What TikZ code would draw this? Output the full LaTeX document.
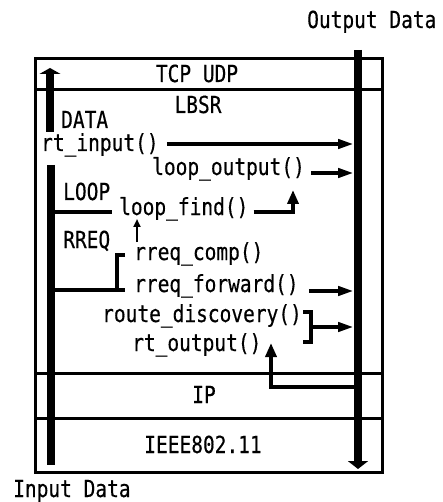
\documentclass[tikz,border=0pt]{standalone}
\usepackage{fontspec}
\setmainfont{DejaVu Sans Mono}[FakeStretch=0.83,FakeBold=0.4]
\usetikzlibrary{arrows.meta}

\tikzset{
  layer/.style={line width=3pt},
  bar/.style={line width=7.5pt},
  link/.style={line width=4.5pt,line join=miter},
  flow/.style={link,-{Triangle[length=16pt,width=9pt]}},
  rise/.style={link,-{Triangle[length=14pt,width=11pt]}},
  tiny/.style={line width=2pt,-{Triangle[length=8pt,width=7pt]}},
  lbl/.style={anchor=base west,inner sep=0pt,font=\fontsize{23.5}{27}\selectfont},
  ttl/.style={lbl,anchor=base},
}

\begin{document}
\begin{tikzpicture}[x=1pt,y=-1pt]
        \useasboundingbox (0,0) rectangle (443,502);
        % layers
        \draw [layer] (35,59) rectangle (382,472);
        \draw [layer] (35,90) -- (382,90);
        \draw [layer] (35,373) -- (382,373);
        \draw [layer] (35,418) -- (382,418);
        \node [ttl] (tcp) at (197,82) {TCP UDP};
        \node [ttl] (lbsr) at (198,113) {LBSR};
        \node [ttl] (ip) at (204,403) {IP};
        \node [ttl] (ieee) at (203,453) {IEEE802.11};
        \node [lbl] (indata) at (13,497) {Input Data};
        \node [lbl] (outdata) at (307,28) {Output Data};
        % functions
        \node [lbl] (data) at (61,128) {DATA};
        \node [lbl] (rtin) at (41,151) {rt\_input()};
        \node [lbl] (loopout) at (152,175) {loop\_output()};
        \node [lbl] (loop) at (63,200) {LOOP};
        \node [lbl] (loopfind) at (119,215) {loop\_find()};
        \node [lbl] (rreq) at (63,248) {RREQ};
        \node [lbl] (rreqcomp) at (134,260) {rreq\_comp()};
        \node [lbl] (rreqfwd) at (134,292) {rreq\_forward()};
        \node [lbl] (routedisc) at (102,322) {route\_discovery()};
        \node [lbl] (rtout) at (132,351) {rt\_output()};
        % data paths
        \coordinate (ob) at (354,0);
        \coordinate (ib) at (55,0);
        \draw [bar,-{Triangle[length=6pt,width=21pt]}] (50,132) -- (50,68);
        \draw [bar] (51,165) -- (51,465);
        \draw [bar,-{Triangle[length=8pt,width=20pt]}] (358,50) -- (358,469);
        \draw [flow] ([xshift=8pt,yshift=7pt]rtin.base east) -- (ob |- 0,144);
        \draw [flow] ([xshift=6pt,yshift=2pt]loopout.base east) -- (ob |- 0,173);
        \coordinate (lfup) at (293,190);
        \draw [rise] ([xshift=5pt,yshift=3pt]loopfind.base east) -| (lfup);
        \draw [link] (ib |- 0,212) -- ([xshift=-7pt,yshift=3pt]loopfind.base west);
        \coordinate (lfdn) at (137,219);
        \draw [tiny] ([xshift=3pt,yshift=18pt]rreqcomp.base west) -- (lfdn);
        \coordinate (rqb) at (117,290);
        \draw [link] ([xshift=-9pt,yshift=5pt]rreqcomp.base west) -| (rqb);
        \draw [link] (ib |- rqb) -- ([xshift=-9pt,yshift=2pt]rreqfwd.base west);
        \draw [flow] ([xshift=10pt,yshift=1pt]rreqfwd.base east) -- (ob |- 0,291);
        \coordinate (rd1) at (303,312);
        \coordinate (rd2) at (303,342);
        \coordinate (rdm) at (311,327);
        \draw [link] (rd1) -- ++(8,0) |- (rd2);
        \draw [flow] (rdm) -- (rdm -| ob);
        \coordinate (ipx) at (358,387);
        \coordinate (rtup) at (271,343);
        \draw [rise] (ipx) -| (rtup);
    \end{tikzpicture}
\end{document}
